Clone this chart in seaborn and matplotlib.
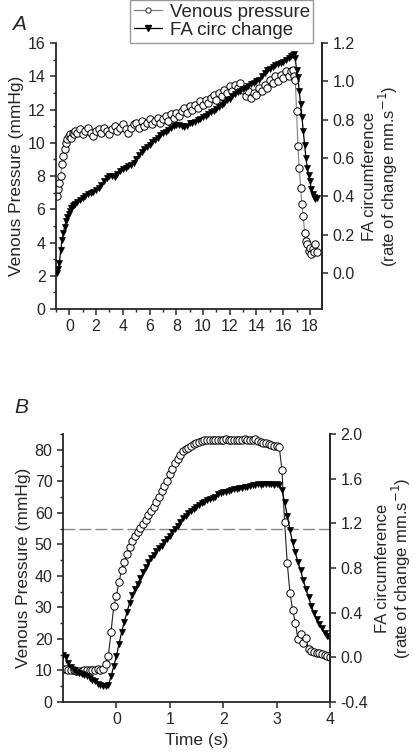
import numpy as np
import matplotlib
matplotlib.use("Agg")
import matplotlib.pyplot as plt
from matplotlib.lines import Line2D
from matplotlib.ticker import MultipleLocator, FormatStrFormatter
import seaborn as sns

# Panel A: zeit (s), venendruck (mmHg), FA Umfangsaenderung (mm/s)
time_a = [-0.95, -0.85, -0.75, -0.65, -0.55, -0.45, -0.35, -0.25, -0.15, -0.05,
          0.05, 0.15, 0.25, 0.35, 0.45,
          0.6, 0.8, 1.0, 1.2, 1.4, 1.6, 1.8, 2.0, 2.2, 2.4,
          2.6, 2.8, 3.0, 3.2, 3.4, 3.6, 3.8, 4.0, 4.2, 4.4,
          4.6, 4.8, 5.0, 5.2, 5.4, 5.6, 5.8, 6.0, 6.2, 6.4,
          6.6, 6.8, 7.0, 7.2, 7.4, 7.6, 7.8, 8.0, 8.2, 8.4,
          8.6, 8.8, 9.0, 9.2, 9.4, 9.6, 9.8, 10.0, 10.2, 10.4,
          10.6, 10.8, 11.0, 11.2, 11.4, 11.6, 11.8, 12.0, 12.2, 12.4,
          12.6, 12.8, 13.0, 13.2, 13.4, 13.6, 13.8, 14.0, 14.2, 14.4,
          14.6, 14.8, 15.0, 15.2, 15.4, 15.6, 15.8, 16.0, 16.2, 16.4,
          16.6,
          16.7, 16.8, 16.9, 17.0, 17.1, 17.2, 17.3, 17.4, 17.5, 17.6,
          17.7, 17.8, 17.9, 18.0, 18.1, 18.2, 18.3, 18.4, 18.5]

venous_a = [6.8, 7.2, 7.6, 8.0, 8.7, 9.2, 9.6, 10.0, 10.2, 10.4,
            10.5, 10.3, 10.6, 10.5, 10.7,
            10.6, 10.8, 10.5, 10.7, 10.9, 10.6, 10.4, 10.7, 10.8, 10.6,
            10.9, 10.7, 10.5, 10.8, 11.0, 10.7, 10.9, 11.1, 10.8, 10.6,
            10.9, 11.1, 11.2, 10.9, 11.3, 11.0, 11.2, 11.4, 11.1, 11.3,
            11.5, 11.2, 11.4, 11.6, 11.3, 11.7, 11.5, 11.8, 11.6, 11.9,
            12.1, 11.8, 12.2, 12.0, 12.3, 12.1, 12.5, 12.3, 12.6, 12.4,
            12.7, 12.9, 12.6, 13.0, 12.8, 13.2, 13.0, 13.4, 13.1, 13.5,
            13.3, 13.6, 13.2, 12.8, 13.1, 12.7, 13.0, 12.9, 13.3, 13.1,
            13.5, 13.3, 13.8, 13.6, 14.0, 13.7, 14.1, 13.9, 14.3, 14.0,
            14.3,
            14.4, 14.0, 13.8, 11.9, 9.8, 8.5, 7.3, 6.3, 5.6, 4.6,
            4.1, 3.9, 3.5, 3.7, 3.3, 3.6, 3.4, 3.9, 3.4]

fa_a = [0.0, 0.02, 0.05, 0.12, 0.17, 0.21, 0.24, 0.27, 0.29, 0.31,
        0.325, 0.34, 0.35, 0.355, 0.36,
        0.37, 0.38, 0.39, 0.40, 0.41, 0.415, 0.425, 0.435, 0.445, 0.46,
        0.48, 0.495, 0.505, 0.505, 0.50, 0.515, 0.53, 0.54, 0.55, 0.56,
        0.565, 0.575, 0.595, 0.615, 0.63, 0.645, 0.656, 0.67, 0.685, 0.695,
        0.705, 0.72, 0.73, 0.735, 0.745, 0.755, 0.765, 0.77, 0.77, 0.765,
        0.76, 0.765, 0.78, 0.785, 0.79, 0.80, 0.805, 0.815, 0.82, 0.83,
        0.84, 0.845, 0.855, 0.865, 0.875, 0.885, 0.90, 0.91, 0.925, 0.935,
        0.945, 0.95, 0.96, 0.965, 0.975, 0.985, 0.99, 1.0, 1.005, 1.03,
        1.045, 1.06, 1.065, 1.075, 1.085, 1.09, 1.095, 1.10, 1.11, 1.12,
        1.13,
        1.135, 1.14, 1.12, 1.06, 1.02, 0.95, 0.88, 0.815, 0.74, 0.67,
        0.60, 0.55, 0.51, 0.48, 0.44, 0.41, 0.395, 0.385, 0.39]

# Panel B
time_b = [-1.0, -0.95, -0.9, -0.85, -0.8, -0.75, -0.7, -0.65, -0.6, -0.55,
          -0.5, -0.45, -0.4, -0.35, -0.3, -0.25, -0.2, -0.15, -0.1, -0.05,
          0.0, 0.05, 0.1, 0.15, 0.2, 0.25, 0.3, 0.35, 0.4, 0.45,
          0.5, 0.55, 0.6, 0.65, 0.7, 0.75, 0.8, 0.85, 0.9, 0.95,
          1.0, 1.05, 1.1, 1.15, 1.2, 1.25, 1.3, 1.35, 1.4, 1.45,
          1.5, 1.55, 1.6, 1.65, 1.7, 1.75, 1.8, 1.85, 1.9, 1.95,
          2.0, 2.05, 2.1, 2.15, 2.2, 2.25, 2.3, 2.35, 2.4, 2.45,
          2.5, 2.55, 2.6, 2.65, 2.7, 2.75, 2.8, 2.85, 2.9, 2.95,
          3.0, 3.05, 3.1, 3.15, 3.2, 3.25, 3.3, 3.35, 3.4, 3.45,
          3.5, 3.55, 3.6, 3.65, 3.7, 3.75, 3.8, 3.85, 3.9, 3.95,
          4.0]

venous_b = [10.5, 10.4, 10.3, 10.2, 10.0, 9.9, 9.8, 9.9, 10.0, 10.1,
            10.2, 10.1, 10.3, 10.5, 10.2, 10.4, 12.2, 14.7, 22.3, 30.3,
            33.7, 38.2, 41.9, 44.5, 47.0, 49.2, 51.0, 52.6, 54.0, 55.2,
            56.4, 57.8, 59.3, 60.5, 62.0, 63.6, 65.1, 66.9, 68.4, 70.2,
            72.2, 74.0, 75.7, 77.0, 78.4, 79.5, 80.2, 80.7, 81.2, 81.7,
            82.1, 82.5, 82.8, 83.0, 83.1, 83.2, 83.1, 83.2, 83.2, 83.1,
            83.2, 83.3, 83.2, 83.2, 83.1, 83.2, 83.0, 83.1, 83.4, 83.1,
            83.2, 83.0, 83.3, 82.8, 82.6, 82.2, 82.0, 81.8, 81.6, 81.3,
            81.2, 80.9, 73.7, 57.0, 44.0, 34.7, 29.2, 25.2, 19.9, 21.6,
            18.8, 20.2, 16.7, 16.3, 16.0, 15.6, 15.4, 15.1, 14.8, 14.6,
            14.4]

fa_b = [0.02, 0.0, -0.05, -0.09, -0.11, -0.13, -0.14, -0.15, -0.16, -0.17,
        -0.185, -0.20, -0.215, -0.235, -0.25, -0.26, -0.26, -0.25, -0.17, -0.08,
        0.01, 0.12, 0.23, 0.32, 0.41, 0.49, 0.56, 0.61, 0.66, 0.71,
        0.76, 0.81, 0.85, 0.89, 0.92, 0.95, 0.98, 1.00, 1.03, 1.06,
        1.09, 1.12, 1.15, 1.18, 1.21, 1.25, 1.27, 1.29, 1.31, 1.33,
        1.35, 1.36, 1.38, 1.39, 1.41, 1.42, 1.43, 1.44, 1.46, 1.47,
        1.48, 1.485, 1.49, 1.50, 1.505, 1.51, 1.515, 1.52, 1.525, 1.53,
        1.535, 1.54, 1.545, 1.55, 1.545, 1.55, 1.55, 1.555, 1.55, 1.545,
        1.55, 1.54, 1.50, 1.39, 1.27, 1.14, 1.03, 0.94, 0.85, 0.78,
        0.69, 0.61, 0.54, 0.46, 0.40, 0.34, 0.30, 0.26, 0.22, 0.19,
        0.165]

threshold_b = 55

sns.set_style("ticks")
plt.rcParams['font.family'] = ['Liberation Sans', 'DejaVu Sans']
plt.rcParams['axes.linewidth'] = 1.3
plt.rcParams['xtick.major.width'] = 1.1
plt.rcParams['ytick.major.width'] = 1.1
plt.rcParams['xtick.minor.width'] = 1.0
plt.rcParams['ytick.minor.width'] = 1.0
plt.rcParams['xtick.major.size'] = 4
plt.rcParams['ytick.major.size'] = 4
plt.rcParams['xtick.minor.size'] = 2.5
plt.rcParams['ytick.minor.size'] = 2.5

tick_fs = 11.5
label_fs = 12.5

fig = plt.figure(figsize=(4.13, 7.53), dpi=100)
axA = fig.add_axes([0.1356, 0.5896, 0.644, 0.3533])
axB = fig.add_axes([0.1525, 0.0677, 0.6465, 0.3559])


def zeichne(ax, t, ven, fa, ven_color):
    sns.lineplot(x=t, y=ven, ax=ax, estimator=None, sort=False, color=ven_color,
                 linewidth=0.8, marker='o', markersize=5.3, markerfacecolor='white',
                 markeredgecolor='black', markeredgewidth=0.7)
    ax2 = ax.twinx()
    sns.lineplot(x=t, y=fa, ax=ax2, estimator=None, sort=False, color='black',
                 linewidth=0.9, marker='v', markersize=5, markerfacecolor='black',
                 markeredgecolor='black', markeredgewidth=0.5)
    for a in (ax, ax2):
        a.spines['top'].set_visible(False)
        a.tick_params(labelsize=tick_fs)
    ax2.spines['left'].set_visible(False)
    ax2.spines['bottom'].set_visible(False)
    ax.set_ylabel("Venous Pressure (mmHg)", fontsize=label_fs, labelpad=3)
    ax2.set_ylabel("FA circumference\n(rate of change mm.s$^{-1}$)", fontsize=12,
                   rotation=90, labelpad=5, linespacing=1.0)
    ax2.yaxis.set_major_formatter(FormatStrFormatter('%.1f'))
    return ax2


# Panel A
axA2 = zeichne(axA, time_a, venous_a, fa_a, '#808080')
axA.set_xlim(-1, 18.9)
axA.set_ylim(0, 16)
axA.xaxis.set_major_locator(MultipleLocator(2))
axA.xaxis.set_minor_locator(MultipleLocator(1))
axA.yaxis.set_major_locator(MultipleLocator(2))
axA.yaxis.set_minor_locator(MultipleLocator(1))
axA2.set_ylim(-0.188, 1.2)
axA2.set_yticks([0.0, 0.2, 0.4, 0.6, 0.8, 1.0, 1.2])

# Panel B
axB2 = zeichne(axB, time_b, venous_b, fa_b, '#222222')
axB.axhline(threshold_b, color='#888888', linestyle=(0, (8.5, 3)), linewidth=1.0, zorder=0)
axB.set_xlim(-1, 4)
axB.set_ylim(0, 85)
axB.set_xticks([0, 1, 2, 3, 4])
axB.yaxis.set_major_locator(MultipleLocator(10))
axB.yaxis.set_minor_locator(MultipleLocator(5))
axB.set_xlabel("Time (s)", fontsize=label_fs)
axB2.set_ylim(-0.4, 2.0)
axB2.set_yticks([-0.4, 0.0, 0.4, 0.8, 1.2, 1.6, 2.0])

fig.text(0.03, 0.960, "A", fontsize=15, style='italic')
fig.text(0.035, 0.4515, "B", fontsize=15, style='italic')

handles = [Line2D([], [], color='#808080', linewidth=0.9, marker='o', markersize=3.8,
                  markerfacecolor='white', markeredgecolor='black', markeredgewidth=0.6),
           Line2D([], [], color='black', linewidth=0.9, marker='v', markersize=3.8,
                  markerfacecolor='black', markeredgecolor='black')]
leg = fig.legend(handles, ["Venous pressure", "FA circ change"], loc='upper center',
                 bbox_to_anchor=(0.537, 1.0), fontsize=13.5, frameon=True, fancybox=False,
                 edgecolor='#808080', handlelength=1.5, handletextpad=0.4,
                 borderpad=0.2, labelspacing=0.05, borderaxespad=0)
leg.get_frame().set_linewidth(1.0)

fig.savefig("out.png", dpi=100)
